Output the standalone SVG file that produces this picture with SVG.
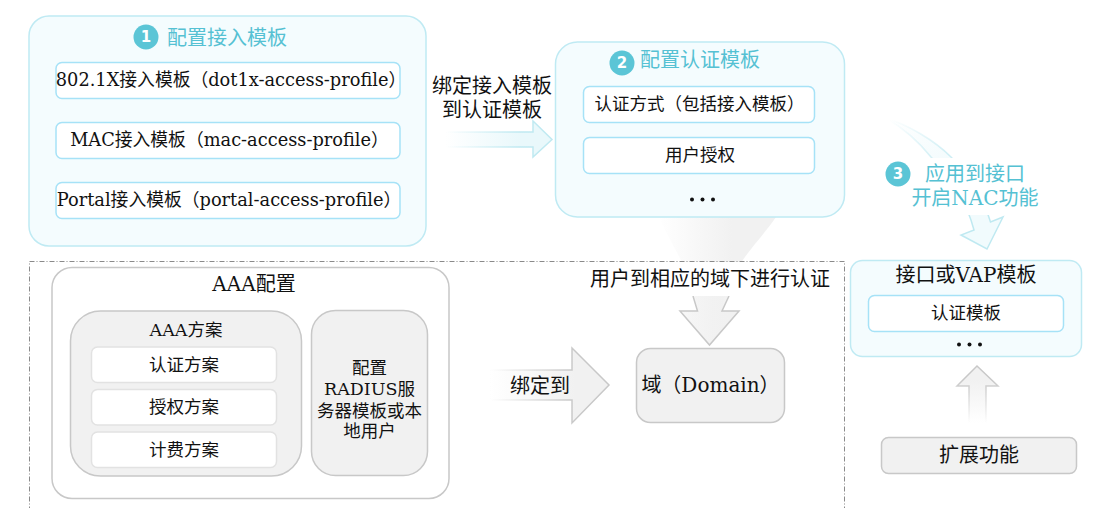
<svg xmlns="http://www.w3.org/2000/svg" width="1105" height="508" viewBox="0 0 1105 508">
<style>
text{font-family:"DejaVu Serif","Noto Sans CJK SC",serif;fill:#111;text-anchor:middle}
.t16{font-size:17.500px}.t17{font-size:17.800px}.t18{font-size:20px}
.title{font-size:20px;fill:#55c1d3}
.num{font-family:"DejaVu Sans",sans-serif;font-size:15px;font-weight:bold;fill:#fff}
.panel{fill:#f4fcfe;stroke:#bfeaf3;stroke-width:1.5}
.inner{fill:#fff;stroke:#a6e2f7;stroke-width:1.5}
.gray{fill:#f1f1f1;stroke:#c8c8c8;stroke-width:1.5}
.white{fill:#fff;stroke:#c8c8c8;stroke-width:1.5}
.whiteIn{fill:#fff;stroke:#e2e2e2;stroke-width:1.5}
.badge{fill:#5bc5d6}
.dot{fill:#111}
</style>
<defs>
<linearGradient id="gBlueH" gradientUnits="userSpaceOnUse" x1="446" y1="0" x2="552" y2="0"><stop offset="0" stop-color="#e9f8fb" stop-opacity="0"/><stop offset="0.7" stop-color="#e9f8fb"/></linearGradient>
<linearGradient id="gBlueHs" gradientUnits="userSpaceOnUse" x1="446" y1="0" x2="552" y2="0"><stop offset="0" stop-color="#bfe9f1" stop-opacity="0"/><stop offset="0.7" stop-color="#bfe9f1"/></linearGradient>
<linearGradient id="gGrayH" gradientUnits="userSpaceOnUse" x1="490" y1="0" x2="575" y2="0"><stop offset="0" stop-color="#f1f1f1" stop-opacity="0"/><stop offset="1" stop-color="#f1f1f1"/></linearGradient>
<linearGradient id="gGrayHs" gradientUnits="userSpaceOnUse" x1="490" y1="0" x2="575" y2="0"><stop offset="0" stop-color="#c8c8c8" stop-opacity="0"/><stop offset="1" stop-color="#c8c8c8"/></linearGradient>
<linearGradient id="gGrayU" gradientUnits="userSpaceOnUse" x1="0" y1="423" x2="0" y2="380"><stop offset="0" stop-color="#f1f1f1" stop-opacity="0"/><stop offset="1" stop-color="#f1f1f1"/></linearGradient>
<linearGradient id="gGrayUs" gradientUnits="userSpaceOnUse" x1="0" y1="423" x2="0" y2="380"><stop offset="0" stop-color="#c8c8c8" stop-opacity="0"/><stop offset="1" stop-color="#c8c8c8"/></linearGradient>
<linearGradient id="gFunnel" gradientUnits="userSpaceOnUse" x1="658" y1="0" x2="732" y2="0"><stop offset="0" stop-color="#f1f1f1" stop-opacity="0"/><stop offset="1" stop-color="#f1f1f1"/></linearGradient>
<linearGradient id="gCurve" gradientUnits="userSpaceOnUse" x1="890" y1="120" x2="975" y2="235"><stop offset="0" stop-color="#e9f8fb" stop-opacity="0"/><stop offset="0.7" stop-color="#f1fbfd"/></linearGradient>
<linearGradient id="gCurveS" gradientUnits="userSpaceOnUse" x1="890" y1="120" x2="975" y2="235"><stop offset="0" stop-color="#bfe9f1" stop-opacity="0"/><stop offset="0.6" stop-color="#bfe9f1"/></linearGradient>
</defs>

<g id="connectors">
<path id="arrow-bind-auth" d="M446 132H533V121L552 139.500L533 157V147H446Z" fill="url(#gBlueH)" stroke="url(#gBlueHs)" stroke-width="1.500"/>
<path id="arrow-funnel" d="M659 217C673 250 692 270 697.500 311H680L709.500 345L739 311H722C726 270 757 245 776 217Z" fill="url(#gFunnel)"/>
<path d="M693 296L697.500 311H680L709.500 345L739 311H722L729 296" fill="url(#gFunnel)" stroke="#c8c8c8" stroke-width="1.500"/>
<path id="arrow-bind-domain" d="M490 370H572V348L609 385L572 423V400H490Z" fill="url(#gGrayH)" stroke="url(#gGrayHs)" stroke-width="1.500"/>
<path id="arrow-curve" d="M886 118C908 125 934 140 951 157C969 175 984 200 990.500 222L1003 217L987 249L961 235L974 230C966 200 949 175 931 157C919 142 903 128 886 118Z" fill="url(#gCurve)" stroke="url(#gCurveS)" stroke-width="1.500"/>
<path id="arrow-extend" d="M969 423V386H957L977 366L998 386H986V423" fill="url(#gGrayU)" stroke="url(#gGrayUs)" stroke-width="1.500"/>
</g>

<rect id="frame" x="29.500" y="261.500" width="815" height="260" fill="none" stroke="#8a8a8a" stroke-width="1" stroke-dasharray="5 2 1 2"/>
<rect x="880" y="158" width="170" height="57" fill="#fff"/>

<g id="node-access">
<rect class="panel" x="29" y="16" width="397" height="230" rx="20"/>
<circle class="badge" cx="146" cy="37" r="12.500"/><text class="num" x="146" y="42">1</text>
<text class="title" x="227" y="45">配置接入模板</text>
<rect class="inner" x="56" y="62.500" width="344" height="36" rx="6"/>
<text class="t17" x="231" y="86">802.1X接入模板（dot1x-access-profile）</text>
<rect class="inner" x="56" y="122.500" width="344" height="36" rx="6"/>
<text class="t17" x="229.500" y="146">MAC接入模板（mac-access-profile）</text>
<rect class="inner" x="56" y="182.500" width="344" height="36" rx="6"/>
<text class="t17" x="229" y="206">Portal接入模板（portal-access-profile）</text>
</g>

<g id="label-bind-auth">
<text class="t18" x="492" y="93">绑定接入模板</text>
<text class="t18" x="492" y="117">到认证模板</text>
</g>

<g id="node-auth">
<rect class="panel" x="555.500" y="42" width="289" height="175" rx="22"/>
<circle class="badge" cx="622" cy="63" r="12.500"/><text class="num" x="622" y="68">2</text>
<text class="title" x="700" y="67">配置认证模板</text>
<rect class="inner" x="583.500" y="86.500" width="231" height="36" rx="6"/>
<text class="t16" x="699.500" y="110">认证方式（包括接入模板）</text>
<rect class="inner" x="583.500" y="137.500" width="231" height="36" rx="6"/>
<text class="t16" x="700" y="161">用户授权</text>
<circle class="dot" cx="692" cy="199.500" r="2"/><circle class="dot" cx="702.500" cy="199.500" r="2"/><circle class="dot" cx="713" cy="199.500" r="2"/>
</g>

<g id="label-apply">
<circle class="badge" cx="898" cy="174" r="12.500"/><text class="num" x="898" y="179">3</text>
<text class="title" x="975" y="181">应用到接口</text>
<text class="title" x="975" y="205">开启NAC功能</text>
</g>

<g id="node-interface">
<rect class="panel" x="850.500" y="260.500" width="231" height="96" rx="12"/>
<text class="t18" x="966" y="282">接口或VAP模板</text>
<rect class="inner" x="868.500" y="295.500" width="195" height="36" rx="6"/>
<text class="t16" x="966" y="319">认证模板</text>
<circle class="dot" cx="959" cy="344.500" r="2"/><circle class="dot" cx="969.500" cy="344.500" r="2"/><circle class="dot" cx="980" cy="344.500" r="2"/>
</g>

<g id="node-aaa">
<rect class="white" x="52" y="267.500" width="397" height="231" rx="20"/>
<text class="t18" x="254" y="291">AAA配置</text>
<rect class="gray" x="70.500" y="311" width="231" height="165" rx="30"/>
<text class="t16" x="186" y="336">AAA方案</text>
<rect class="whiteIn" x="91.500" y="347" width="185" height="35.500" rx="6"/>
<text class="t16" x="184" y="371">认证方案</text>
<rect class="whiteIn" x="91.500" y="389.500" width="185" height="35.500" rx="6"/>
<text class="t16" x="184" y="413">授权方案</text>
<rect class="whiteIn" x="91.500" y="432" width="185" height="35.500" rx="6"/>
<text class="t16" x="184" y="456">计费方案</text>
<rect class="gray" x="311.500" y="310.500" width="116" height="165" rx="24"/>
<text class="t16" x="369.500" y="374">配置</text>
<text class="t16" x="369.500" y="395">RADIUS服</text>
<text class="t16" x="369.500" y="417">务器模板或本</text>
<text class="t16" x="369.500" y="437">地用户</text>
</g>

<g id="label-domain">
<rect x="589" y="262" width="243" height="34" fill="#fff"/>
<text class="t18" x="710" y="286">用户到相应的域下进行认证</text>
<text class="t18" x="540" y="393">绑定到</text>
</g>

<g id="node-domain">
<rect class="gray" x="636.500" y="348.500" width="148" height="74" rx="14"/>
<text class="t18" x="710.500" y="392">域（Domain）</text>
</g>

<g id="node-extend">
<rect class="gray" x="881.500" y="437.500" width="195" height="36" rx="7"/>
<text class="t18" x="979" y="462">扩展功能</text>
</g>
</svg>
